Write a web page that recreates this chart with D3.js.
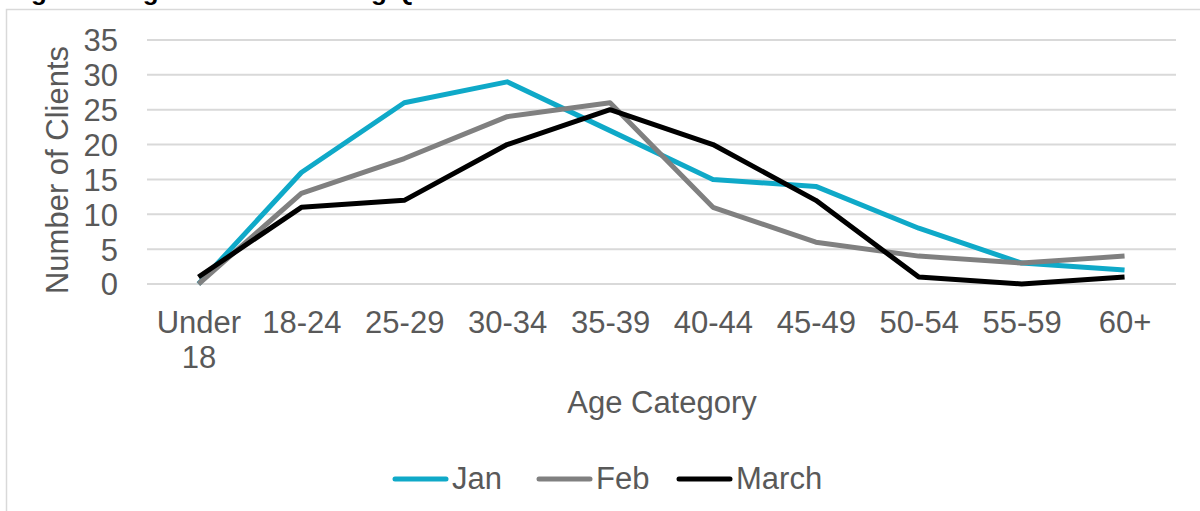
<!DOCTYPE html>
<html><head><meta charset="utf-8">
<script src="https://cdn.jsdelivr.net/npm/d3@7"></script>
<style>body{margin:0;background:#fff;overflow:hidden}text{font-family:"Liberation Sans",Arial,sans-serif}</style>
</head><body>
<svg id="c" width="1200" height="511"></svg>
<script>
const categories = ["Under 18","18-24","25-29","30-34","35-39","40-44","45-49","50-54","55-59","60+"];
const janValues = [0,16,26,29,22,15,14,8,3,2];
const febValues = [0,13,18,24,26,11,6,4,3,4];
const marchValues = [1,11,12,20,25,20,12,1,0,1];
const seriesNames = ["Jan","Feb","March"];
const yTicks = [0,5,10,15,20,25,30,35];
const title = "Figure 6: Age of Clients during Quarter 1";

(function(){
const FS = 31;
const series = [
  {name: seriesNames[0], values: janValues, color: "#0FA9C8"},
  {name: seriesNames[1], values: febValues, color: "#808080"},
  {name: seriesNames[2], values: marchValues, color: "#000000"}
];

const svg = d3.select("#c");
const pL = 147, pR = 1176, pT = 40, pB = 284;
const x = d3.scalePoint().domain(categories).range([pL, pR]).padding(0.5);
const y = d3.scaleLinear().domain([0,35]).range([pB, pT]);

svg.append("text").attr("x", 8).attr("y", 0).attr("font-size", 26).attr("font-weight", "bold").attr("fill", "#000").text(title);
svg.append("rect").attr("x", 6.5).attr("y", 9.5).attr("width", 1250).attr("height", 600).attr("fill", "none").attr("stroke", "#D9D9D9").attr("stroke-width", 1.5);

svg.append("g").selectAll("line").data(yTicks).join("line")
  .attr("x1", pL).attr("x2", pR).attr("y1", d => y(d)).attr("y2", d => y(d))
  .attr("stroke", "#D9D9D9").attr("stroke-width", 2);

const yAxis = svg.append("g").attr("transform", `translate(${pL},0)`)
  .call(d3.axisLeft(y).tickValues(yTicks).tickSize(0).tickPadding(29));
yAxis.select(".domain").remove();
yAxis.selectAll("text").attr("font-size", FS).attr("fill", "#595959").attr("font-family", "Liberation Sans, Arial, sans-serif").attr("dy", "0.35em");

const xAxis = svg.append("g").attr("transform", `translate(0,${pB})`)
  .call(d3.axisBottom(x).tickSize(0).tickPadding(0));
xAxis.select(".domain").remove();
xAxis.selectAll("text").attr("font-size", FS).attr("fill", "#595959").attr("font-family", "Liberation Sans, Arial, sans-serif")
  .each(function(d){
    const t = d3.select(this); t.text(null).attr("dy", null).attr("y", 0);
    const parts = d === "Under 18" ? ["Under","18"] : [d];
    parts.forEach((p,i) => t.append("tspan").attr("x", 0).attr("y", 49 + i*35).text(p));
  });

svg.append("text").attr("transform", `translate(68,170) rotate(-90)`).attr("text-anchor", "middle")
  .attr("font-size", FS).attr("fill", "#595959").text("Number of Clients");
svg.append("text").attr("x", 662).attr("y", 413).attr("text-anchor", "middle")
  .attr("font-size", FS).attr("fill", "#595959").text("Age Category");

const line = d3.line().x((d,i) => x(categories[i])).y(d => y(d));
series.forEach(s => {
  svg.append("path").datum(s.values).attr("d", line).attr("fill", "none")
    .attr("stroke", s.color).attr("stroke-width", 5).attr("stroke-linejoin", "round");
});

const legendX = [393, 537, 677];
const lg = svg.append("g");
series.forEach((s,i) => {
  lg.append("line").attr("x1", legendX[i]+2).attr("x2", legendX[i]+53).attr("y1", 479).attr("y2", 479)
    .attr("stroke", s.color).attr("stroke-width", 5).attr("stroke-linecap", "round");
  lg.append("text").attr("x", legendX[i]+59).attr("y", 489).attr("font-size", FS).attr("fill", "#595959").text(s.name);
});
})();
</script>
</body></html>
